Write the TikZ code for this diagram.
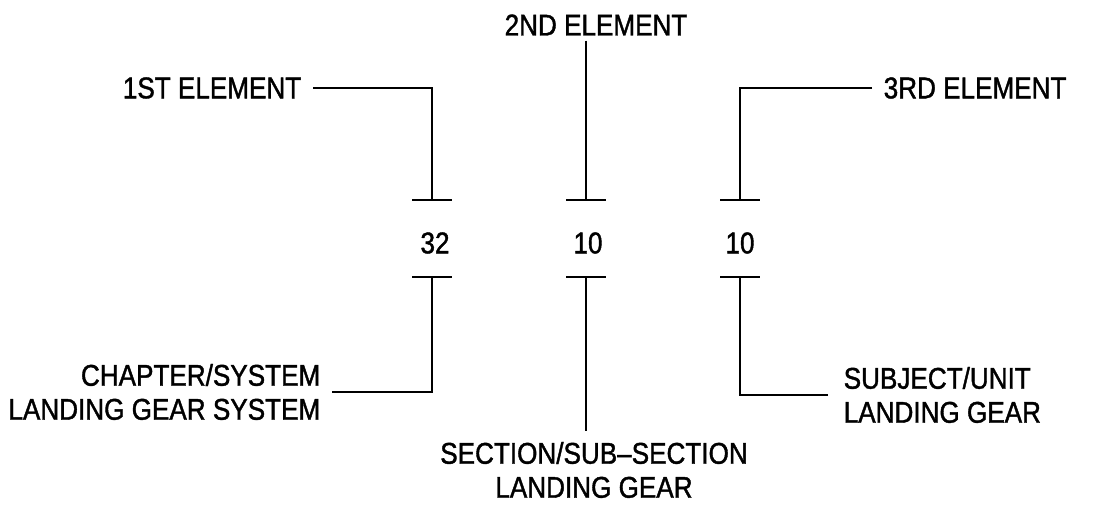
\documentclass[tikz,border=0pt]{standalone}
\usepackage{fontspec}
\setmainfont[FakeStretch=0.87,FakeBold=1.3]{Liberation Sans}
\begin{document}
\begin{tikzpicture}[x=0.75pt,y=-0.75pt,line width=1.6pt,
    lbl/.style={font=\fontsize{22.5}{25.5}\selectfont,inner xsep=8pt,inner ysep=0pt},
    num/.style={font=\fontsize{22.5}{25.5}\selectfont}]
  \useasboundingbox (0,0) rectangle (1094,505);
  % code numbers
  \node[num] (n1) at (435,243) {32};
  \node[num] (n2) at (588,243) {10};
  \node[num] (n3) at (740,243) {10};
  % tees above and below each number
  \foreach \c/\x in {1/432,2/586,3/740}{
    \coordinate (top\c) at (\x,200);
    \coordinate (bot\c) at (\x,277);
    \draw ([xshift=-15pt]top\c) -- ([xshift=15pt]top\c);
    \draw ([xshift=-15pt]bot\c) -- ([xshift=15pt]bot\c);
  }
  % element labels
  \node[lbl,anchor=east] (el1) at (313,88) {1ST ELEMENT};
  \draw (el1.east) -| (top1);
  \node[lbl,inner ysep=3pt] (el2) at (596,25) {2ND ELEMENT};
  \draw (el2.south -| top2) -- (top2);
  \node[lbl,anchor=west] (el3) at (872,88) {3RD ELEMENT};
  \draw (el3.west) -| (top3);
  % meaning of each element
  \node[lbl,anchor=east,align=right] (chap) at (332,392) {CHAPTER/SYSTEM\\LANDING GEAR SYSTEM};
  \draw (chap.east) -| (bot1);
  \node[lbl,align=center,inner ysep=7.5pt] (sect) at (594,470) {SECTION/SUB--SECTION\\LANDING GEAR};
  \draw (bot2) -- (bot2 |- sect.north);
  \node[lbl,anchor=west,align=left,inner xsep=11pt] (subj) at (828,395) {SUBJECT/UNIT\\LANDING GEAR};
  \draw (subj.west) -| (bot3);
\end{tikzpicture}
\end{document}
